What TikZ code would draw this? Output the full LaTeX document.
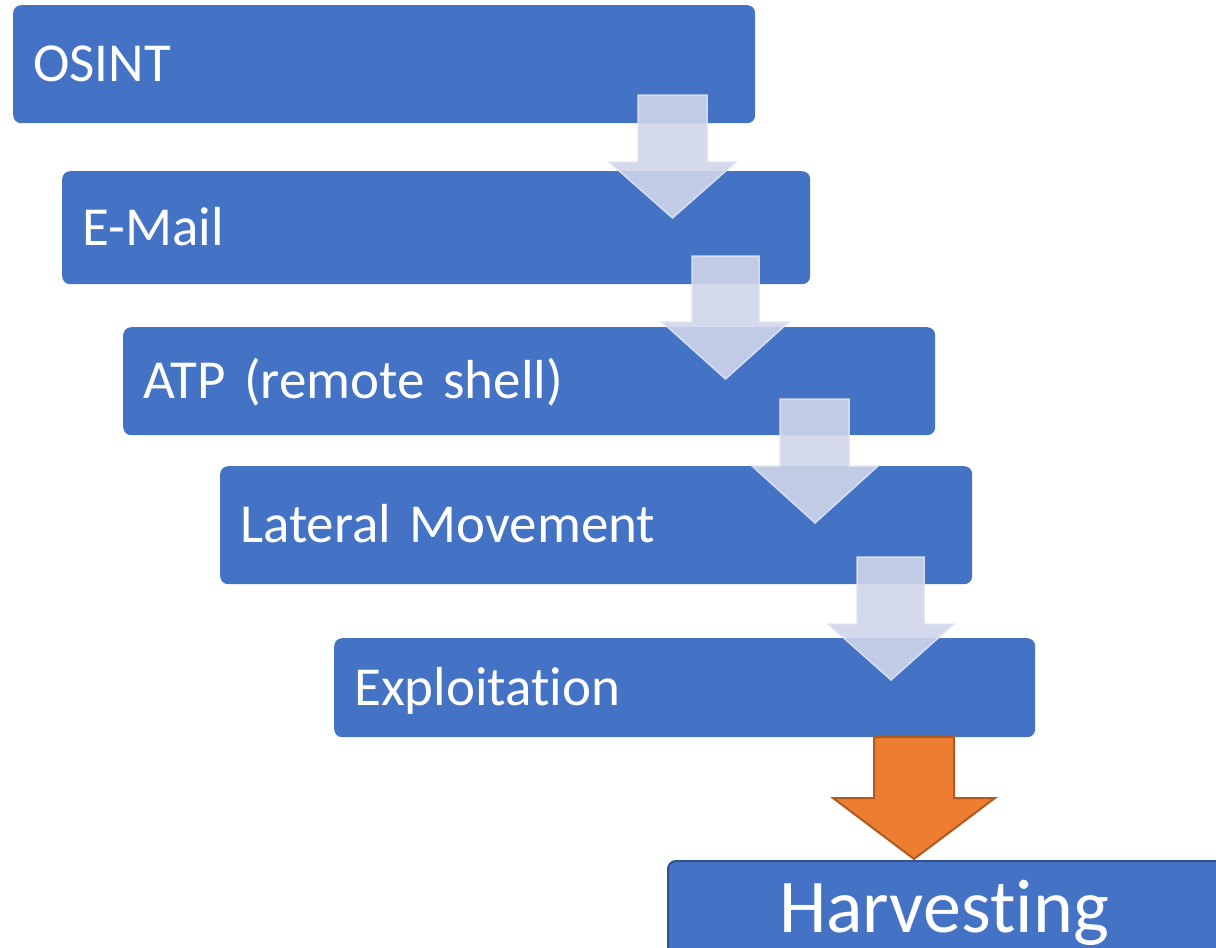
\documentclass[tikz,border=0pt]{standalone}
\usepackage{fontspec}
\setmainfont{Carlito}[Ligatures=NoCommon]
\definecolor{boxblue}{RGB}{68,114,196}
\definecolor{boxedge}{RGB}{47,82,143}
\definecolor{arrowfill}{RGB}{207,213,234}
\definecolor{arrowedge}{RGB}{222,227,243}
\definecolor{orangefill}{RGB}{237,125,49}
\definecolor{orangeedge}{RGB}{174,90,33}
\tikzset{
  stagebox/.style={rectangle, rounded corners=8pt, fill=boxblue, draw=none,
    anchor=north west, text=white, font=\fontsize{55}{60}\selectfont,
    inner xsep=20pt, inner ysep=0pt, text height=35pt, text depth=0pt, align=left},
  flowarrow/.style={fill=arrowfill, fill opacity=0.9, draw=arrowedge, draw opacity=0.9, line width=1.5pt, line join=miter},
  finalarrow/.style={fill=orangefill, draw=orangeedge, line width=2pt, line join=miter}
}
% \blockarrow{shaft left}{shaft right}{top}{head y}{head left}{head right}{tip y}{style}
\newcommand{\blockarrow}[8]{%
  \path[#8] (#1,#3) -- (#2,#3) -- (#2,#4) -- (#6,#4) -- ({(#5+#6)/2},#7) -- (#5,#4) -- (#1,#4) -- cycle;}
\begin{document}
\begin{tikzpicture}[x=1pt,y=-1pt]
\useasboundingbox (0,0) rectangle (1216,948);
\node[stagebox, minimum width=742pt, minimum height=118pt, text width=702pt] (osint) at (13,5) {OSINT};
\node[stagebox, minimum width=748pt, minimum height=113pt, text width=708pt] (email) at (62,171) {E-Mail};
\node[stagebox, minimum width=812pt, minimum height=108pt, text width=772pt] (atp) at (123,327) {ATP (remote shell)};
\node[stagebox, minimum width=752pt, minimum height=118pt, text width=712pt] (lateral) at (220,466) {Lateral Movement};
\node[stagebox, minimum width=701pt, minimum height=99pt, text width=661pt] (exploit) at (334,638) {Exploitation};
\node[stagebox, draw=boxedge, line width=2pt, minimum width=570pt, minimum height=94pt, inner xsep=111pt, text width=348pt,
  font=\fontsize{76}{80}\selectfont, text height=48pt] (harvest) at (667,860) {Harvesting};
\blockarrow{638}{707}{95}{162}{609}{736}{218}{flowarrow}
\blockarrow{692}{759}{256}{322}{662}{789}{379}{flowarrow}
\blockarrow{780}{849}{399}{466}{752}{878}{523}{flowarrow}
\blockarrow{857}{924}{557}{624}{828}{954}{680}{flowarrow}
\blockarrow{874}{954}{737}{798}{833}{995}{859}{finalarrow}
\end{tikzpicture}
\end{document}
